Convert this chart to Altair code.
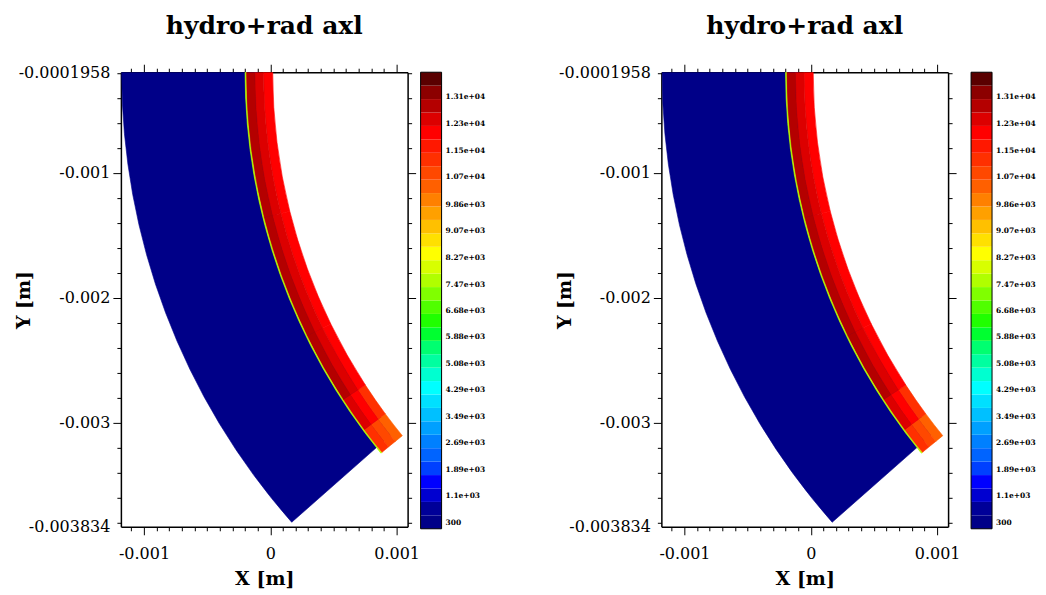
import math
import altair as alt
import pandas as pd

# ---------------- data ----------------
panel_title = "hydro+rad axl"

# plot extents (m)
x_domain = [-0.001183, 0.001087]
y_domain = [-0.003834, -0.0001958]

x_label_values = [-0.001, 0.0, 0.001]
x_label_texts = ["-0.001", "0", "0.001"]
x_minor_step = 0.0001

y_label_values = [-0.0001958, -0.001, -0.002, -0.003, -0.003834]
y_label_texts = ["-0.0001958", "-0.001", "-0.002", "-0.003", "-0.003834"]
y_major_values = [-0.001, -0.002, -0.003]
y_minor_step = 0.0002

# mesh geometry (m, angles in degrees clockwise from 12 o'clock)
center_y = -0.0001958
# cold material (blue) - arc centre, radii, angular extent
cold_center_x = 0.004211
cold_r = [0.004311, 0.005388]
cold_theta = [228.6, 270.0]
cold_T = 500
# hot shell (red) and the thin front - arc centre and angular cells
hot_center_x = 0.004567
hot_theta_edges = [230.75, 233.5, 237.0, 244.0, 256.0, 270.0]
front_r_edges = [0.004755, 0.004761, 0.004767]
front_T = [9000, 7600]
hot_r_edges = [0.004548, 0.00462, 0.00469, 0.004755]
hot_T_layer1 = [10500, 11400, 12000, 12000, 12000]
hot_T_layer2 = [11000, 12000, 12400, 12400, 12500]
hot_T_layer3 = [11400, 12400, 12800, 12800, 12800]

# colour bar
cbar_min = 120
cbar_max = 13860
palette = [
    "#000088", "#000098", "#0000d0", "#0000ff", "#0040ff", "#0064ff",
    "#0080ff", "#00a0ff", "#00c0ff", "#00e0ff", "#00ffff", "#00ffd0",
    "#00ffa0", "#00ff70", "#00ff30", "#20ff00", "#50ff00", "#80ff00",
    "#b0ff00", "#d8ff00", "#ffff00", "#ffe000", "#ffc000", "#ffa000",
    "#ff8000", "#ff6000", "#ff4800", "#ff3000", "#ff1800", "#ff0000",
    "#dc0000", "#b40000", "#8c0000", "#5a0000",
]
cbar_tick_values = [300, 1100, 1890, 2690, 3490, 4290, 5080, 5880, 6680,
                    7470, 8270, 9070, 9860, 10700, 11500, 12300, 13100]
cbar_tick_labels = ["300", "1.1e+03", "1.89e+03", "2.69e+03", "3.49e+03",
                    "4.29e+03", "5.08e+03", "5.88e+03", "6.68e+03",
                    "7.47e+03", "8.27e+03", "9.07e+03", "9.86e+03",
                    "1.07e+04", "1.15e+04", "1.23e+04", "1.31e+04"]

# ---------------- tables ----------------
R = math.radians
rows = [dict(cx=cold_center_x, cy=center_y, th0=R(cold_theta[0]), th1=R(cold_theta[1]),
             r_in=cold_r[0], r_out=cold_r[1], T=cold_T)]
for i, T in enumerate(front_T):
    rows.append(dict(cx=hot_center_x, cy=center_y, th0=R(hot_theta_edges[0]),
                     th1=R(hot_theta_edges[-1]), r_in=front_r_edges[i],
                     r_out=front_r_edges[i + 1], T=T))
for li, layer in enumerate([hot_T_layer1, hot_T_layer2, hot_T_layer3]):
    for si, T in enumerate(layer):
        rows.append(dict(cx=hot_center_x, cy=center_y, th0=R(hot_theta_edges[si]),
                         th1=R(hot_theta_edges[si + 1]), r_in=hot_r_edges[li],
                         r_out=hot_r_edges[li + 1], T=T))
field_df = pd.DataFrame(rows)
field_df["order"] = range(len(field_df))

nb = len(palette)
step = (cbar_max - cbar_min) / nb
cbar_df = pd.DataFrame(dict(lo=[cbar_min + i * step for i in range(nb)],
                            hi=[cbar_min + (i + 1) * step for i in range(nb)],
                            col=palette))
cbar_tick_df = pd.DataFrame(dict(v=cbar_tick_values, label=cbar_tick_labels))
cbar_frame_df = pd.DataFrame(dict(lo=[cbar_min], hi=[cbar_max]))

# axis tick lists
x_minor = [round(k * x_minor_step, 7) for k in range(-11, 11)]
x_all = sorted(set(x_minor + x_label_values))
y_minor = [round(-k * y_minor_step, 7) for k in range(1, 20)]
y_all = sorted(set(y_minor + y_major_values))


def label_expr(values, texts):
    expr = "''"
    for v, t in reversed(list(zip(values, texts))):
        expr = f"datum.value == {repr(v)} ? '{t}' : ({expr})"
    return expr


def major_test(values):
    return "indexof([" + ",".join(repr(v) for v in values) + "], datum.value) >= 0"


FONT = "DejaVu Serif"
PW, PH = 287, 455
CBW, CBH = 21, 457

x_ts = {"condition": {"test": major_test(x_label_values), "value": 8}, "value": 4}
y_ts = {"condition": {"test": major_test(y_major_values), "value": 8}, "value": 4}

tick_axis = dict(labels=False, title=None, grid=False, domain=True,
                 domainColor="black", domainWidth=1.5, ticks=True,
                 tickColor="black", tickWidth=1)
label_axis = dict(ticks=False, domain=False, grid=False, labelOverlap=False,
                  labelFlush=False, labelFont=FONT, labelFontSize=16,
                  labelColor="black", titleFont=FONT, titleFontSize=19,
                  titleFontWeight="bold", titleColor="black")
no_frame = alt.ViewBackground(stroke="transparent", strokeWidth=0, strokeOpacity=0)


def plot_panel():
    xs = alt.Scale(domain=x_domain, nice=False, zero=False)
    ys = alt.Scale(domain=y_domain, nice=False, zero=False)
    px_per_mm = PW / ((x_domain[1] - x_domain[0]) * 1000)
    rs = alt.Scale(type="linear", domain=[0, 0.006], range=[0, 6 * px_per_mm])
    cs = alt.Scale(type="quantize", domain=[cbar_min, cbar_max], range=palette, nice=False)

    arcs = alt.Chart(field_df).mark_arc(clip=True, strokeWidth=0.6).encode(
        x=alt.X("cx:Q", scale=xs, axis=alt.Axis(
            orient="bottom", values=x_label_values,
            labelExpr=label_expr(x_label_values, x_label_texts),
            labelPadding=19, title="X [m]", titlePadding=8, **label_axis)),
        y=alt.Y("cy:Q", scale=ys, axis=alt.Axis(
            orient="left", values=y_label_values,
            labelExpr=label_expr(y_label_values, y_label_texts),
            labelPadding=11, title="Y [m]", titleX=-87, **label_axis)),
        theta=alt.Theta("th0:Q", scale=None, stack=False),
        theta2="th1:Q",
        radius=alt.Radius("r_out:Q", scale=rs),
        radius2="r_in:Q",
        color=alt.Color("T:Q", scale=cs, legend=None),
        stroke=alt.Stroke("T:Q", scale=cs, legend=None),
        order=alt.Order("order:Q"),
    )
    ticks_bl = alt.Chart(field_df).mark_point(opacity=0, clip=True).encode(
        x=alt.X("cx:Q", scale=xs, axis=alt.Axis(orient="bottom", values=x_all,
                                                tickSize=x_ts, **tick_axis)),
        y=alt.Y("cy:Q", scale=ys, axis=alt.Axis(orient="left", values=y_all,
                                                tickSize=y_ts, **tick_axis)),
    )
    ticks_tr = alt.Chart(field_df).mark_point(opacity=0, clip=True).encode(
        x=alt.X("cx:Q", scale=xs, axis=alt.Axis(orient="top", values=x_all,
                                                tickSize=x_ts, **tick_axis)),
        y=alt.Y("cy:Q", scale=ys, axis=alt.Axis(orient="right", values=y_all,
                                                tickSize=y_ts, **tick_axis)),
    )
    return alt.layer(arcs, ticks_bl, ticks_tr).resolve_axis(
        x="independent", y="independent").properties(
        width=PW, height=PH, view=no_frame,
        title=alt.TitleParams(panel_title, font=FONT, fontSize=25, fontWeight="bold",
                              color="black", anchor="middle", offset=25),
    )


def colorbar(view_width, bar_x=0):
    cys = alt.Scale(domain=[cbar_min, cbar_max], nice=False, zero=False)
    ax_kw = dict(orient="left", values=cbar_tick_values, labels=False, domain=False,
                 ticks=True, tickSize=5, tickColor="black", tickWidth=1,
                 grid=False, title=None)
    if bar_x:
        ax_kw["offset"] = -bar_x
    cax = alt.Axis(**ax_kw)
    bands = alt.Chart(cbar_df).mark_rect().encode(
        x=alt.value(bar_x), x2=alt.value(bar_x + CBW),
        y=alt.Y("lo:Q", scale=cys, axis=cax), y2="hi:Q",
        fill=alt.Fill("col:N", scale=None),
    )
    border = alt.Chart(cbar_frame_df).mark_rect(fillOpacity=0, stroke="black", strokeWidth=1).encode(
        x=alt.value(bar_x), x2=alt.value(bar_x + CBW),
        y=alt.Y("lo:Q", scale=cys, axis=None), y2="hi:Q",
    )
    labels = alt.Chart(cbar_tick_df).mark_text(
        align="left", baseline="middle", font=FONT, fontSize=7.5, fontWeight="bold",
        color="black").encode(
        x=alt.value(bar_x + CBW + 4),
        y=alt.Y("v:Q", scale=cys, axis=None),
        text="label:N",
    )
    return alt.layer(bands, border, labels).properties(
        width=view_width, height=CBH, view=no_frame)


chart = alt.hconcat(
    plot_panel(), colorbar(228), plot_panel(), colorbar(CBW + 10, bar_x=10),
    spacing=13, bounds="flush",
).properties(
    padding={"left": 7, "top": 5, "right": 2, "bottom": 5},
).configure_view(stroke="transparent", strokeWidth=0, strokeOpacity=0).configure(
    background="white")

chart.save("out.html", embed_options={"renderer": "svg", "actions": False})
